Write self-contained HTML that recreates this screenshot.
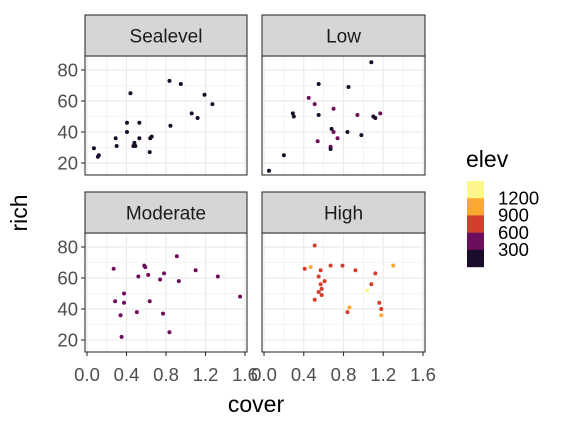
<!DOCTYPE html>
<html><head><meta charset="utf-8"><style>
body{margin:0;background:#fff}
svg{display:block;font-family:"Liberation Sans",Arial,sans-serif}
</style></head><body>
<svg id="c" width="576" height="432" viewBox="0 0 576 432"></svg>
<script>
const panelNames = ["Sealevel","Low","Moderate","High"];
const seaCover = [.835,.95,.44,1.19,1.27,1.06,1.12,.405,.53,.845,.405,.29,.53,.655,.64,.30,.48,.47,.49,.635,.07,.12,.11];
const seaRich  = [73,71,65,64,58,52,49,46,46,44,40,36,36,37,36,31,33,31,31,27,29.5,25,24];
const seaElev  = [100,100,100,100,100,100,100,100,100,100,100,100,100,100,100,100,100,100,100,100,100,100,100];
const lowCover = [1.08,.55,.85,.45,.51,.70,.29,.30,.55,.94,1.17,1.10,1.12,.68,.70,.84,.98,.74,.54,.67,.67,.20,.05];
const lowRich  = [85,71,69,62,58,55,52,50,51,51,52,50,49,42,40,40,38,36,34,30.5,29,25,15];
const lowElev  = [250,250,250,450,450,450,250,250,250,450,450,250,250,250,450,250,250,450,450,450,250,250,250];
const modCover = [.91,.58,.59,.27,1.10,.78,.62,.52,1.325,.74,.93,.375,1.55,.285,.375,.635,.505,.77,.34,.835,.35];
const modRich  = [74,68,67,66,65,63,62,61,61,59,58,50,48,45,44,45,38,37,36,25,22];
const modElev  = [500,500,500,500,500,500,500,500,500,500,500,500,500,500,500,500,500,500,500,500,500];
const highCover = [.51,.41,.47,.67,.79,1.30,.57,.92,1.12,.55,.61,.57,1.08,.58,.55,1.04,.58,.51,1.16,.86,1.18,.84,1.18];
const highRich  = [81,66,67,68,68,68,65,65,63,61,58,56,56,53,51,52,49,46,44,41,40,38,36];
const highElev  = [800,800,1000,800,800,1000,800,800,800,800,800,800,800,800,800,1300,800,800,800,1000,800,800,1000];
const xTicks = [0,0.4,0.8,1.2,1.6];
const xTickLabels = ["0.0","0.4","0.8","1.2","1.6"];
const yTicks = [20,40,60,80];
const legendBreaks = [1200,900,600,300];

const svg=document.getElementById('c');const NS="http://www.w3.org/2000/svg";
function mk(t,a,p){const e=document.createElementNS(NS,t);for(const k in a)e.setAttribute(k,a[k]);(p||svg).appendChild(e);return e;}
function col(v){return v<300?"#1b0c2b":v<600?"#6c0e5c":v<900?"#d53e2e":v<1200?"#fcaa2f":"#fcf68b";}
const panels=[
 {x0:85,x1:247,y0:56,y1:175,sy:15,cv:seaCover,rv:seaRich,ev:seaElev,left:true,bottom:false},
 {x0:262,x1:425,y0:56,y1:175,sy:15,cv:lowCover,rv:lowRich,ev:lowElev,left:false,bottom:false},
 {x0:85,x1:247,y0:233,y1:352,sy:192,cv:modCover,rv:modRich,ev:modElev,left:true,bottom:true},
 {x0:262,x1:425,y0:233,y1:352,sy:192,cv:highCover,rv:highRich,ev:highElev,left:false,bottom:true}];
panels.forEach((p,i)=>{
 const xs=v=>p.x0+2+v*(p.x1-p.x0-4)/1.6;
 const yTop=p.y0+14;
 const ys=v=>yTop+(80-v)*1.55;
 const g=mk('g',{});
 
 
 mk('rect',{x:p.x0,y:p.y0,width:p.x1-p.x0,height:p.y1-p.y0,fill:'#fff'},g);
 [0.2,0.6,1.0,1.4].forEach(v=>mk('line',{x1:xs(v),x2:xs(v),y1:p.y0,y2:p.y1,stroke:'#ebebeb','stroke-width':0.6},g));
 [30,50,70].forEach(v=>mk('line',{x1:p.x0,x2:p.x1,y1:ys(v),y2:ys(v),stroke:'#ebebeb','stroke-width':0.6},g));
 xTicks.forEach(v=>mk('line',{x1:xs(v),x2:xs(v),y1:p.y0,y2:p.y1,stroke:'#ebebeb','stroke-width':1.2},g));
 yTicks.forEach(v=>mk('line',{x1:p.x0,x2:p.x1,y1:ys(v),y2:ys(v),stroke:'#ebebeb','stroke-width':1.2},g));
 p.cv.forEach((c,j)=>{const d=mk('circle',{cx:xs(c),cy:ys(p.rv[j]),r:2,fill:col(p.ev[j])},g);
  
  });
 mk('rect',{x:p.x0,y:p.y0,width:p.x1-p.x0,height:p.y1-p.y0,fill:'none',stroke:'#333','stroke-width':1.1},g);
 const s=mk('rect',{x:p.x0,y:p.sy,width:p.x1-p.x0,height:p.y0-p.sy,fill:'#d6d6d6',stroke:'#333','stroke-width':1.1},g);
 
 
 const st=mk('text',{x:(p.x0+p.x1)/2,y:(p.sy+p.y0)/2+7,'text-anchor':'middle','font-size':19,fill:'#1a1a1a'},g);st.textContent=panelNames[i];
 
 
 if(p.left){yTicks.forEach(v=>{mk('line',{x1:p.x0-4,x2:p.x0,y1:ys(v),y2:ys(v),stroke:'#333','stroke-width':1.1},g);
  const t=mk('text',{x:p.x0-7,y:ys(v)+6.5,'text-anchor':'end','font-size':18.5,fill:'#4d4d4d'},g);t.textContent=v;
  
  });}
 if(p.bottom){xTicks.forEach((v,k)=>{mk('line',{x1:xs(v),x2:xs(v),y1:p.y1,y2:p.y1+4,stroke:'#333','stroke-width':1.1},g);
  const t=mk('text',{x:xs(v),y:381,'text-anchor':'middle','font-size':18.5,fill:'#4d4d4d'},g);t.textContent=xTickLabels[k];
  
  });}
});
const xt=mk('text',{x:256,y:412,'text-anchor':'middle','font-size':23,fill:'#000'});xt.textContent='cover';


const yt=mk('text',{x:0,y:0,'text-anchor':'middle','font-size':23,fill:'#000',transform:'translate(27,213) rotate(-90)'});yt.textContent='rich';


const lg=mk('g',{});


const lt=mk('text',{x:466,y:167,'font-size':23,fill:'#000'},lg);lt.textContent='elev';
const blocks=[1300,1000,800,500,100];
blocks.forEach((v,k)=>mk('rect',{x:467,y:181+k*17.2,width:17,height:17.4,fill:col(v)},lg));
legendBreaks.forEach((v,k)=>{const t=mk('text',{x:498,y:198+k*17.2+6.5,'font-size':18.5,fill:'#000'},lg);t.textContent=v;
 
 });
</script>
</body></html>
